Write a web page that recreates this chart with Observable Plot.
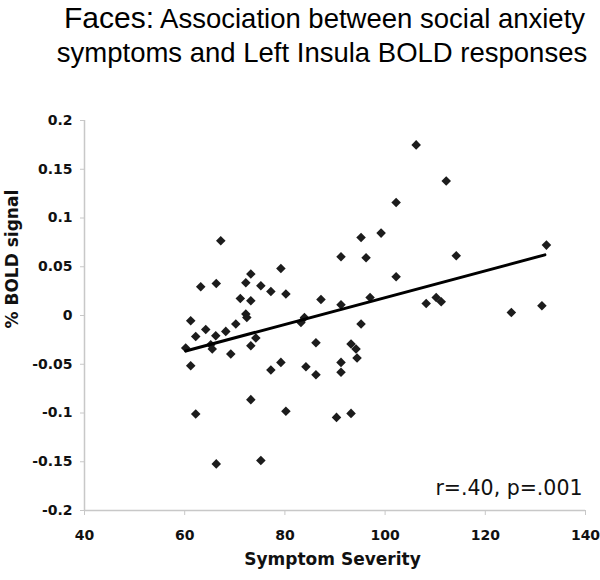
<!DOCTYPE html>
<html>
<head>
<meta charset="utf-8">
<script src="https://cdn.jsdelivr.net/npm/d3@7"></script>
<script src="https://cdn.jsdelivr.net/npm/@observablehq/plot@0.6"></script>
<style>
  html, body { margin: 0; padding: 0; background: #fff; overflow: hidden; }
  #chart { width: 600px; height: 580px; }
  #chart svg { display: block; }
</style>
</head>
<body>
<div id="chart"></div>
<script>
// ---- Data ----
const titleLead = "Faces:";
const titleRest = " Association between social anxiety";
const titleLine2 = "symptoms and Left Insula BOLD responses";
const xLabel = "Symptom Severity";
const yLabel = "% BOLD signal";
const annotation = "r=.40, p=.001";

const severity = [
  67.2, 95.2, 91.2, 96.2, 63.2, 66.3, 73.2, 72.2, 75.2, 79.2,
  77.2, 80.2, 71.1, 73.2, 87.2, 91.2, 97.0, 72.2, 72.4, 61.2,
  70.2, 64.2, 68.2, 62.2, 66.2, 83.9, 83.2, 95.2, 60.2, 65.2,
  65.5, 74.2, 73.2, 69.2, 86.2, 93.2, 94.2, 94.4, 61.2, 77.2,
  79.2, 84.2, 86.2, 91.2, 91.2, 73.2, 62.2, 80.2, 90.3, 93.2,
  66.3, 75.2, 106.2, 112.2, 102.2, 99.2, 132.2, 114.2, 102.2, 108.2,
  110.2, 111.2, 125.2, 131.3
];
const boldSignal = [
  0.0766, 0.080, 0.0602, 0.0592, 0.0295, 0.0328, 0.0425, 0.0336, 0.0305, 0.0482,
  0.0246, 0.022, 0.0175, 0.0151, 0.0164, 0.011, 0.0185, 0.0015, -0.002, -0.0054,
  -0.0088, -0.0143, -0.0163, -0.0215, -0.0207, -0.002, -0.0071, -0.0088, -0.0334, -0.030,
  -0.0344, -0.0231, -0.031, -0.0395, -0.0279, -0.0293, -0.0344, -0.0436, -0.0515, -0.0559,
  -0.0481, -0.0525, -0.0607, -0.0481, -0.0583, -0.0863, -0.101, -0.0983, -0.1045, -0.1004,
  -0.1522, -0.1488, 0.175, 0.138, 0.1158, 0.0845, 0.0722, 0.0612, 0.0397, 0.0123,
  0.0185, 0.0141, 0.0031, 0.010
];

// fitted line end points as drawn in the reference
const fitX = [60.2, 131.9];
const fitY = [-0.0364, 0.0622];

const xTicks = [40, 60, 80, 100, 120, 140];
const yTicks = [-0.2, -0.15, -0.1, -0.05, 0, 0.05, 0.1, 0.15, 0.2];
const yTickLabels = ["-0.2", "-0.15", "-0.1", "-0.05", "0", "0.05", "0.1", "0.15", "0.2"];

// ---- Build ----
const points = severity.map((x, i) => ({x, y: boldSignal[i]}));
const fit = fitX.map((x, i) => ({x, y: fitY[i]}));
const yLabelMap = new Map(yTicks.map((t, i) => [t, yTickLabels[i]]));

const chart = document.getElementById("chart");

// Title (separate SVG above the plot)
const title = d3.create("svg")
  .attr("width", 600).attr("height", 90)
  .style("font-family", "'Liberation Sans', Arial, sans-serif")
  .style("fill", "#000");
const t1 = title.append("text").attr("x", 324.5).attr("y", 28).attr("text-anchor", "middle");
t1.append("tspan").attr("font-size", 30).text(titleLead);
t1.append("tspan").attr("font-size", 27.5).text(titleRest);
title.append("text").attr("x", 322).attr("y", 62).attr("text-anchor", "middle")
  .attr("font-size", 27.5).text(titleLine2);
chart.appendChild(title.node());

const axisFont = "'DejaVu Sans', Verdana, sans-serif";

const plot = Plot.plot({
  width: 600,
  height: 490,
  marginLeft: 84,
  marginRight: 15,
  marginTop: 30,
  marginBottom: 70,
  style: {background: "#fff", fontFamily: axisFont, overflow: "visible"},
  x: {domain: [40, 140]},
  y: {domain: [-0.2, 0.2]},
  marks: [
    Plot.axisX({ticks: xTicks, tickSize: 5, tickPadding: 15, stroke: "#c8c8c8", fill: "#111",
      fontSize: 14, fontWeight: "bold", label: null, tickFormat: d => String(d)}),
    Plot.axisY({ticks: yTicks, tickSize: 4, tickPadding: 8, stroke: "#c8c8c8", fill: "#111",
      fontSize: 14, fontWeight: "bold", label: null, tickFormat: d => yLabelMap.get(d)}),
    Plot.ruleX([40], {stroke: "#c8c8c8", strokeWidth: 1.5}),
    Plot.ruleY([-0.2], {stroke: "#c8c8c8", strokeWidth: 1.5}),
    Plot.dot(points, {x: "x", y: "y", symbol: "diamond2", r: 4.3, fill: "#1c1c1c"}),
    Plot.line(fit, {x: "x", y: "y", stroke: "#000", strokeWidth: 3}),
    Plot.text([annotation], {text: d => d, frameAnchor: "bottom-right", textAnchor: "end",
      lineAnchor: "bottom", dx: -3, dy: -16, fontSize: 20.5, fill: "#111"}),
    Plot.text([xLabel], {text: d => d, frameAnchor: "bottom", lineAnchor: "middle",
      dx: -2.5, dy: 49, fontSize: 17, fontWeight: "bold", fill: "#111"}),
    Plot.text([yLabel], {text: d => d, frameAnchor: "left", rotate: -90, lineAnchor: "middle",
      dx: -71.5, dy: 13, fontSize: 17, fontWeight: "bold", fill: "#111"})
  ]
});
chart.appendChild(plot);
</script>
</body>
</html>
